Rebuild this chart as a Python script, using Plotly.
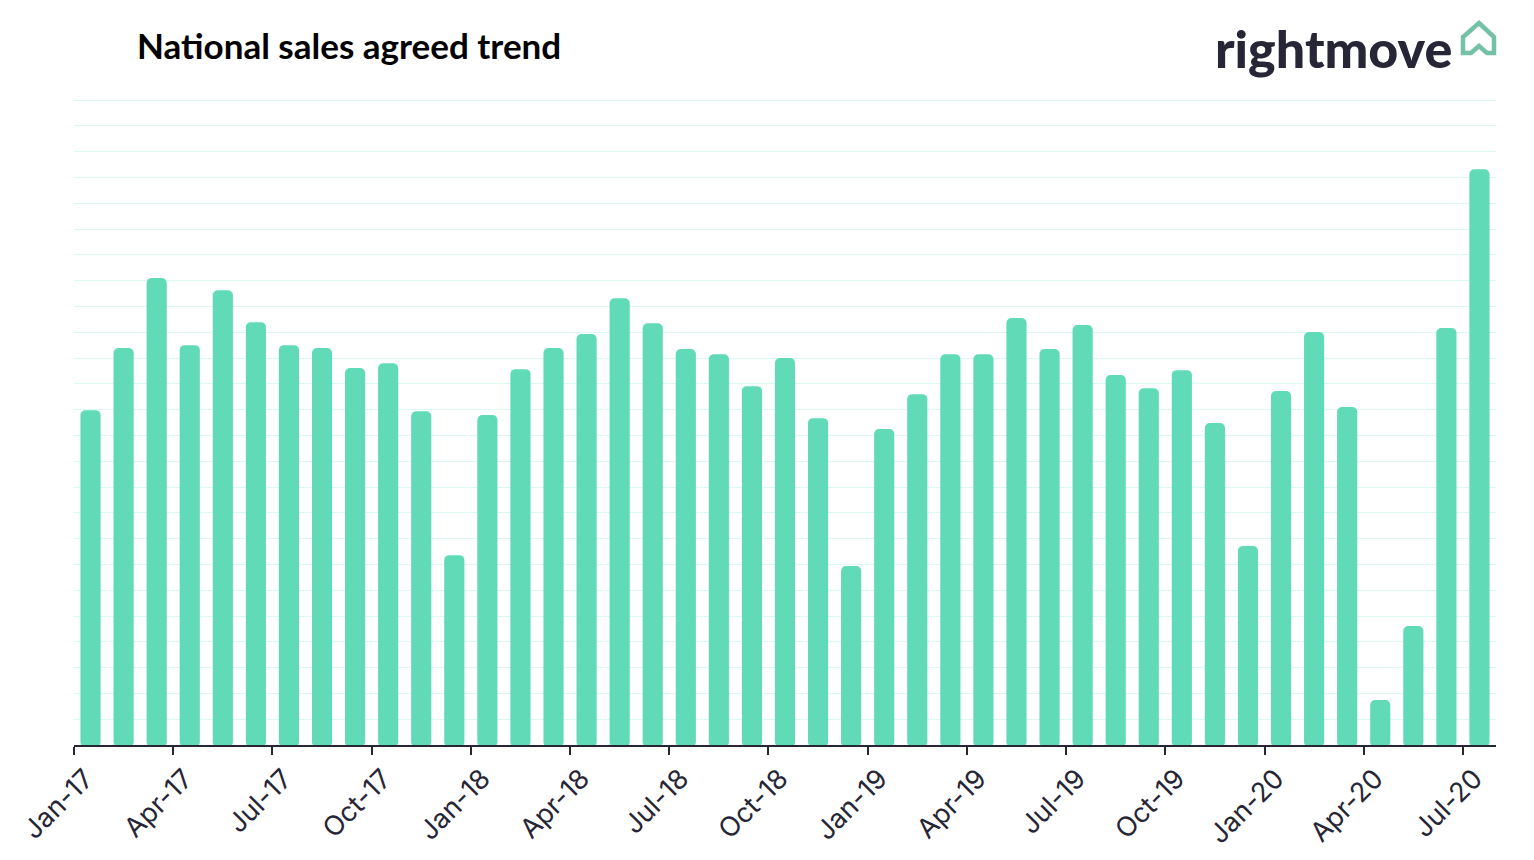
import plotly.graph_objects as go

W, H = 1534, 860
L, R, T, B = 74, 38, 98, 115

years = ["17", "18", "19", "20"]
month_names = ["Jan", "Feb", "Mar", "Apr", "May", "Jun", "Jul", "Aug", "Sep", "Oct", "Nov", "Dec"]
months = [f"{m}-{y}" for y in years for m in month_names][:43]

sales_agreed = [
    13.06, 15.47, 18.18, 15.58, 17.71, 16.47, 15.58, 15.47, 14.69, 14.88, 13.02, 7.44,
    12.87, 14.65, 15.47, 16.01, 17.40, 16.43, 15.43, 15.23, 13.99, 15.08, 12.75, 7.02,
    12.33, 13.68, 15.23, 15.23, 16.63, 15.43, 16.36, 14.42, 13.91, 14.61, 12.56, 7.79,
    13.80, 16.09, 13.18, 1.82, 4.69, 16.24, 22.40,
]
grid_top = 25.08
base_offset = -0.08

def px(x):
    return (x - L) / (W - L - R)

def py(y):
    return 1 - (y - T) / (H - T - B)

house = [(1479, 23), (1494, 37), (1494, 53), (1487, 53), (1479, 46), (1471, 53), (1463, 53), (1463, 37)]
house_path = "M " + " L ".join(f"{px(x):.5f} {py(y):.5f}" for x, y in house) + " Z"

fig = go.Figure(go.Bar(
    x=months,
    y=sales_agreed,
    base=base_offset,
    width=0.61,
    cliponaxis=False,
    marker=dict(color="#61dbb7", line_width=0, cornerradius=5),
    hoverinfo="x+y",
))

fig.update_layout(
    width=W, height=H,
    autosize=False,
    margin=dict(l=L, r=R, t=T, b=B, autoexpand=False),
    paper_bgcolor="white",
    plot_bgcolor="white",
    showlegend=False,
    title=dict(
        text="National sales agreed trend",
        x=137 / W, xanchor="left", xref="container",
        y=1 - 47 / H, yanchor="middle", yref="container",
        font=dict(family="Lato", size=35, color="#000000", weight=700),
    ),
    xaxis=dict(
        type="category",
        categoryorder="array",
        categoryarray=months,
        range=[-0.5, 42.5],
        tickson="boundaries",
        dtick=3,
        ticks="outside",
        ticklen=8,
        tickwidth=1.5,
        tickcolor="#262637",
        showline=True,
        linecolor="#262637",
        linewidth=2,
        showgrid=False,
        tickangle=-45,
        ticklabelstandoff=5,
        ticklabelshift=-5,
        tickfont=dict(family="Inter", size=27, color="#262637"),
    ),
    yaxis=dict(
        range=[0, grid_top],
        dtick=1,
        showticklabels=False,
        ticks="",
        showgrid=True,
        gridcolor="#dcf9f0",
        gridwidth=1,
        zeroline=False,
        showline=False,
    ),
    annotations=[dict(
        text="rightmove",
        xref="paper", yref="paper",
        x=px(1454), y=py(48),
        xanchor="right", yanchor="middle",
        showarrow=False,
        font=dict(family="Lato", size=52, color="#262637", weight=900),
    )],
    shapes=[dict(
        type="path", xref="paper", yref="paper", path=house_path,
        line=dict(color="#74c1a7", width=4.5), fillcolor="rgba(0,0,0,0)",
    )],
)
fig.write_html(
    "out.html",
    config=dict(displayModeBar=False),
    post_script="document.body.style.margin='0';document.documentElement.style.overflow='hidden';",
)
